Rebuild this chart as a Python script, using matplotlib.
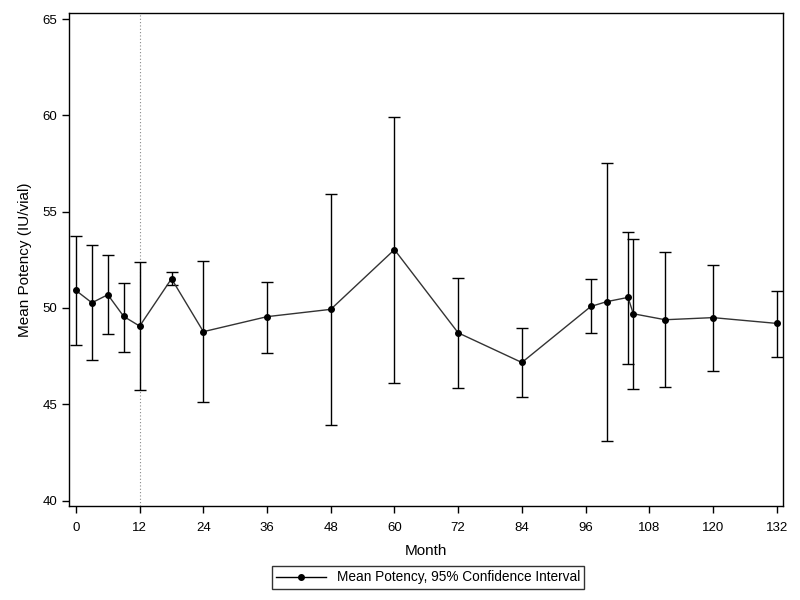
import matplotlib
matplotlib.use("Agg")
import matplotlib.pyplot as plt
from matplotlib.lines import Line2D

# ---------------------- DATA ----------------------
months = [0, 3, 6, 9, 12, 18, 24, 36, 48, 60, 72, 84, 97, 100, 104, 105, 111, 120, 132]
mean_potency = [50.91, 50.27, 50.69, 49.56, 49.06, 51.52, 48.77, 49.55, 49.93, 53.03,
                48.71, 47.17, 50.08, 50.33, 50.55, 49.70, 49.39, 49.50, 49.20]
ci_upper = [53.74, 53.29, 52.77, 51.31, 52.37, 51.89, 52.42, 51.37, 55.90, 59.94,
            51.57, 48.95, 51.52, 57.53, 53.96, 53.60, 52.91, 52.25, 50.90]
ci_lower = [48.06, 47.31, 48.63, 47.73, 45.72, 51.17, 45.13, 47.68, 43.90, 46.12,
            45.86, 45.40, 48.68, 43.08, 47.10, 45.81, 45.91, 46.74, 47.47]

x_ticks = list(range(0, 133, 12))
y_ticks = [40, 45, 50, 55, 60, 65]
ref_month = 12

plt.rcParams['font.family'] = ['Liberation Sans', 'DejaVu Sans']

# ---------------------- PLOT ----------------------
fig = plt.figure(figsize=(8, 6), dpi=100)
ax = fig.add_axes([0.0866, 0.1567, 0.8925, 0.8211])

err_lo = [m - l for m, l in zip(mean_potency, ci_lower)]
err_hi = [u - m for m, u in zip(mean_potency, ci_upper)]

ax.errorbar(months, mean_potency, yerr=[err_lo, err_hi], fmt='none',
            ecolor='black', elinewidth=1.0, capsize=4.5, capthick=1.0, zorder=2)
ax.plot(months, mean_potency, color='#333333', linewidth=1.0, marker='o',
        markersize=4, markerfacecolor='black', markeredgecolor='black', zorder=3)

ax.axvline(ref_month, color='#888888', linestyle=(0, (1, 2)), linewidth=0.8, zorder=1)

ax.set_xlim(-1.26, 133.25)
ax.set_ylim(39.72, 65.3)
ax.set_xticks(x_ticks)
ax.set_yticks(y_ticks)
ax.tick_params(direction='out', length=5, width=1, labelsize=9.5, color='black')
ax.tick_params(axis='x', pad=6.5)
for s in ax.spines.values():
    s.set_linewidth(1.0)

ax.set_xlabel("Month", fontsize=11, labelpad=7)
ax.set_ylabel("Mean Potency (IU/vial)", fontsize=11, labelpad=8)

handle = Line2D([0], [0], color='black', linewidth=1.0, marker='o', markersize=4)
leg = fig.legend([handle], ["Mean Potency, 95% Confidence Interval"],
                 loc='center', bbox_to_anchor=(0.535, 0.0375), frameon=True,
                 fancybox=False, fontsize=9.8, handlelength=3.7,
                 borderpad=0.3, edgecolor='black')
leg.get_frame().set_linewidth(1.0)

plt.savefig("out.png", dpi=100)
plt.close()
